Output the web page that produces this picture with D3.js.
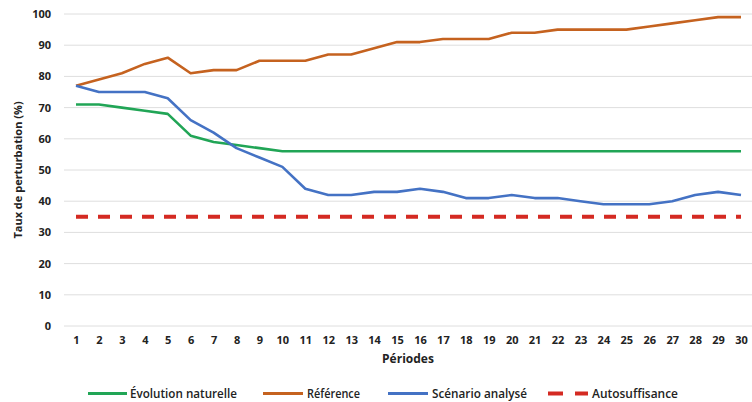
<!DOCTYPE html>
<html>
<head>
<meta charset="utf-8">
<script src="https://cdn.jsdelivr.net/npm/d3@7"></script>
<style>
  html, body { margin: 0; padding: 0; background: #fff; }
  svg { display: block; }
  .tick text { font-family: "Open Sans", "DejaVu Sans", sans-serif; font-weight: 700; font-size: 11px; fill: #222; }
</style>
</head>
<body>
<svg id="chart" width="752" height="402"></svg>
<script>
// Périodes 1 à 30
const periods = d3.range(1, 31);

// Taux de perturbation (%) par scénario
const evolutionNaturelle = [71, 71, 70, 69, 68, 61, 59, 58, 57, 56, 56, 56, 56, 56, 56, 56, 56, 56, 56, 56, 56, 56, 56, 56, 56, 56, 56, 56, 56, 56];
const reference = [77, 79, 81, 84, 86, 81, 82, 82, 85, 85, 85, 87, 87, 89, 91, 91, 92, 92, 92, 94, 94, 95, 95, 95, 95, 96, 97, 98, 99, 99];
const scenarioAnalyse = [77, 75, 75, 75, 73, 66, 62, 57, 54, 51, 44, 42, 42, 43, 43, 44, 43, 41, 41, 42, 41, 41, 40, 39, 39, 39, 40, 42, 43, 42];
const autosuffisance = [35, 35, 35, 35, 35, 35, 35, 35, 35, 35, 35, 35, 35, 35, 35, 35, 35, 35, 35, 35, 35, 35, 35, 35, 35, 35, 35, 35, 35, 35];

const yTicks = [0, 10, 20, 30, 40, 50, 60, 70, 80, 90, 100];

const seriesNames = ["Évolution naturelle", "Référence", "Scénario analysé", "Autosuffisance"];
const seriesColors = ["#21a556", "#c5621f", "#4472c4", "#d42a22"];

const series = [
  { name: seriesNames[0], values: evolutionNaturelle, color: seriesColors[0], dash: null, width: 2.6 },
  { name: seriesNames[1], values: reference, color: seriesColors[1], dash: null, width: 2.6 },
  { name: seriesNames[2], values: scenarioAnalyse, color: seriesColors[2], dash: null, width: 2.6 },
  { name: seriesNames[3], values: autosuffisance, color: seriesColors[3], dash: "12,10", width: 4 }
];

const svg = d3.select("#chart");
const plotLeft = 64, plotRight = 752;

const x = d3.scalePoint().domain(periods).range([76, 741]);
const y = d3.scaleLinear().domain([0, 100]).range([326, 14]);

// Grille horizontale
svg.append("g")
  .selectAll("line")
  .data(yTicks)
  .join("line")
  .attr("x1", plotLeft).attr("x2", plotRight)
  .attr("y1", d => y(d)).attr("y2", d => y(d))
  .attr("stroke", "#dedede").attr("stroke-width", 1);

// Axe Y
const yAxis = svg.append("g")
  .attr("transform", `translate(${plotLeft},0)`)
  .call(d3.axisLeft(y).tickValues(yTicks).tickSize(0).tickPadding(13));
yAxis.select(".domain").remove();

// Axe X
const xAxis = svg.append("g")
  .attr("transform", `translate(0,${y(0)})`)
  .call(d3.axisBottom(x).tickSize(0).tickPadding(10));
xAxis.select(".domain").remove();

// Courbes
const line = d3.line()
  .x((d, i) => x(periods[i]))
  .y(d => y(d));

svg.append("g")
  .selectAll("path")
  .data(series)
  .join("path")
  .attr("d", d => line(d.values))
  .attr("fill", "none")
  .attr("stroke", d => d.color)
  .attr("stroke-width", d => d.width)
  .attr("stroke-dasharray", d => d.dash)
  .attr("stroke-linejoin", "round");

// Titres des axes
svg.append("text")
  .attr("transform", `translate(22,${(y(0) + y(100)) / 2}) rotate(-90)`)
  .attr("text-anchor", "middle")
  .attr("font-family", "Open Sans, DejaVu Sans, sans-serif")
  .attr("font-weight", 700)
  .attr("font-size", 11)
  .attr("fill", "#222")
  .text("Taux de perturbation (%)");

svg.append("text")
  .attr("x", 408).attr("y", 363)
  .attr("text-anchor", "middle")
  .attr("font-family", "Open Sans, DejaVu Sans, sans-serif")
  .attr("font-weight", 700)
  .attr("font-size", 12)
  .attr("fill", "#222")
  .text("Périodes");

// Légende
const legendY = 393.5;
const legendItems = [
  { s: series[0], lx: 88, lw: 39, tx: 130, tw: 107 },
  { s: series[1], lx: 263, lw: 40, tx: 307, tw: 53 },
  { s: series[2], lx: 388, lw: 40, tx: 432, tw: 95 },
  { s: series[3], lx: 548, lw: 40, tx: 592, tw: 86 }
];
const legend = svg.append("g");
legendItems.forEach(it => {
  const g = legend.append("g");
  if (it.s.dash) {
    g.append("line").attr("x1", it.lx).attr("x2", it.lx + 15)
      .attr("y1", legendY).attr("y2", legendY)
      .attr("stroke", it.s.color).attr("stroke-width", 4);
    g.append("line").attr("x1", it.lx + 27).attr("x2", it.lx + 40)
      .attr("y1", legendY).attr("y2", legendY)
      .attr("stroke", it.s.color).attr("stroke-width", 4);
  } else {
    g.append("line").attr("x1", it.lx).attr("x2", it.lx + it.lw)
      .attr("y1", legendY).attr("y2", legendY)
      .attr("stroke", it.s.color).attr("stroke-width", 3);
  }
  g.append("text")
    .attr("x", it.tx).attr("y", 397.5)
    .attr("font-family", "Open Sans, sans-serif")
    .attr("font-weight", 600)
    .attr("font-size", 12.5)
    .attr("textLength", it.tw)
    .attr("lengthAdjust", "spacingAndGlyphs")
    .attr("fill", "#222")
    .text(it.s.name);
});
</script>
</body>
</html>
